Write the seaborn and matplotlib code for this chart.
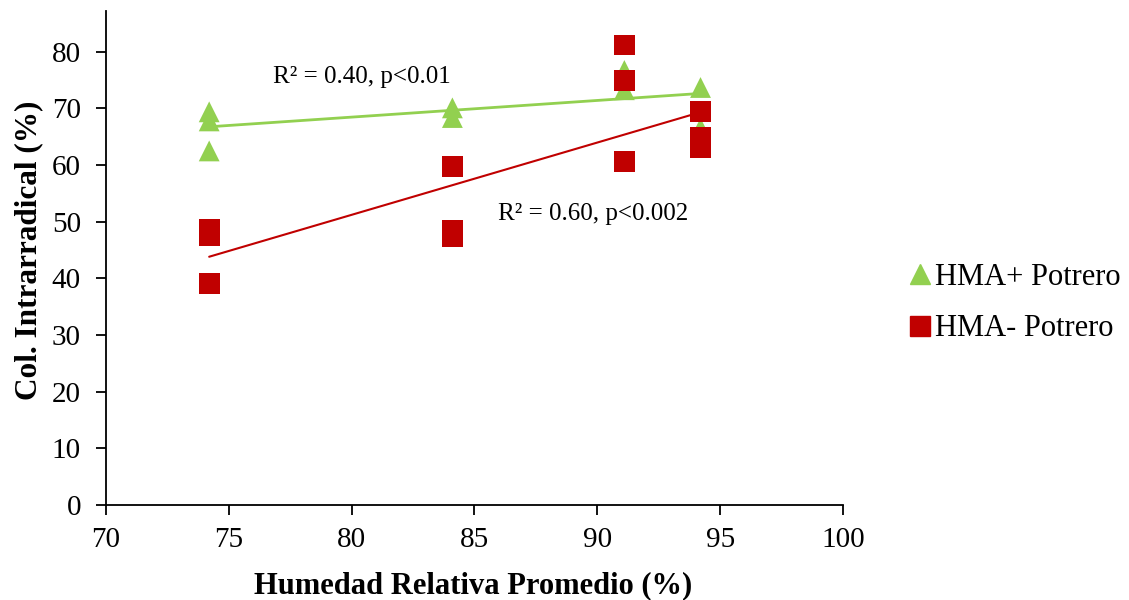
import numpy as np
import pandas as pd
import matplotlib
matplotlib.use("Agg")
import matplotlib.pyplot as plt
import seaborn as sns
from matplotlib.lines import Line2D

# Data
hr_plus = [74.2, 74.2, 74.2, 84.1, 84.1, 91.1, 91.1, 94.2, 94.2]
col_plus = [69.4, 67.8, 62.5, 70.1, 68.4, 76.7, 73.3, 73.7, 66.5]
hr_minus = [74.2, 74.2, 74.2, 84.1, 84.1, 84.1, 91.1, 91.1, 91.1, 94.2, 94.2, 94.2]
col_minus = [48.6, 47.6, 39.1, 59.7, 48.4, 47.3, 81.2, 75.0, 60.7, 69.5, 64.8, 63.1]
series_names = ["HMA+ Potrero", "HMA- Potrero"]
annotations = ["R² = 0.40, p<0.01", "R² = 0.60, p<0.002"]
xticks = [70, 75, 80, 85, 90, 95, 100]
yticks = [0, 10, 20, 30, 40, 50, 60, 70, 80]

green = "#92D050"
red = "#C00000"

sns.set_style("ticks")
plt.rcParams["font.family"] = ["Liberation Serif", "DejaVu Serif"]
plt.rcParams.update({"text.color": "black", "axes.labelcolor": "black",
                     "xtick.color": "black", "ytick.color": "black",
                     "axes.edgecolor": "black"})

df_p = pd.DataFrame({"x": hr_plus, "y": col_plus})
df_m = pd.DataFrame({"x": hr_minus, "y": col_minus})

fig = plt.figure(figsize=(11.29, 6.0), dpi=100)
ax = fig.add_axes([106/1129, 95/600, (843-106)/1129, (505-11)/600])

sns.regplot(data=df_p, x="x", y="y", ax=ax, ci=None, marker="^",
            scatter_kws=dict(s=225, color=green, edgecolors="none", zorder=3, alpha=1),
            line_kws=dict(color=green, lw=2, zorder=2))
sns.regplot(data=df_m, x="x", y="y", ax=ax, ci=None, marker="s",
            scatter_kws=dict(s=225, color=red, edgecolors="none", zorder=4, alpha=1),
            line_kws=dict(color=red, lw=1.5, zorder=2))

ax.set_xlim(70, 100)
ax.set_ylim(0, 87.2)
ax.set_xticks(xticks)
ax.set_yticks(yticks)
ax.tick_params(labelsize=21, direction="out", length=7, width=1.3,
               colors="black", left=True, bottom=True)
ax.tick_params(axis="x", pad=9)
ax.tick_params(axis="y", pad=11)
ax.set_xlabel("Humedad Relativa Promedio (%)", fontsize=22, fontweight="bold")
ax.set_ylabel("Col. Intrarradical (%)", fontsize=22.5, fontweight="bold")
ax.xaxis.set_label_coords(0.498, -0.134)
ax.yaxis.set_label_coords(-0.085, 0.516)
sns.despine(ax=ax)
for s in ["left", "bottom"]:
    ax.spines[s].set_color("black")
    ax.spines[s].set_linewidth(1.3)

ax.text(76.8, 75.6, annotations[0], fontsize=18, ha="left", va="center")
ax.text(85.95, 51.4, annotations[1], fontsize=18, ha="left", va="center")

handles = [Line2D([], [], marker="^", ls="none", color=green, markersize=14),
           Line2D([], [], marker="s", ls="none", color=red, markersize=14)]
fig.legend(handles, series_names, loc="center left", bbox_to_anchor=(0.778, 0.495),
           frameon=False, fontsize=22, handletextpad=0.05, labelspacing=0.75,
           handlelength=0.9)

fig.savefig("out.png", dpi=100)
